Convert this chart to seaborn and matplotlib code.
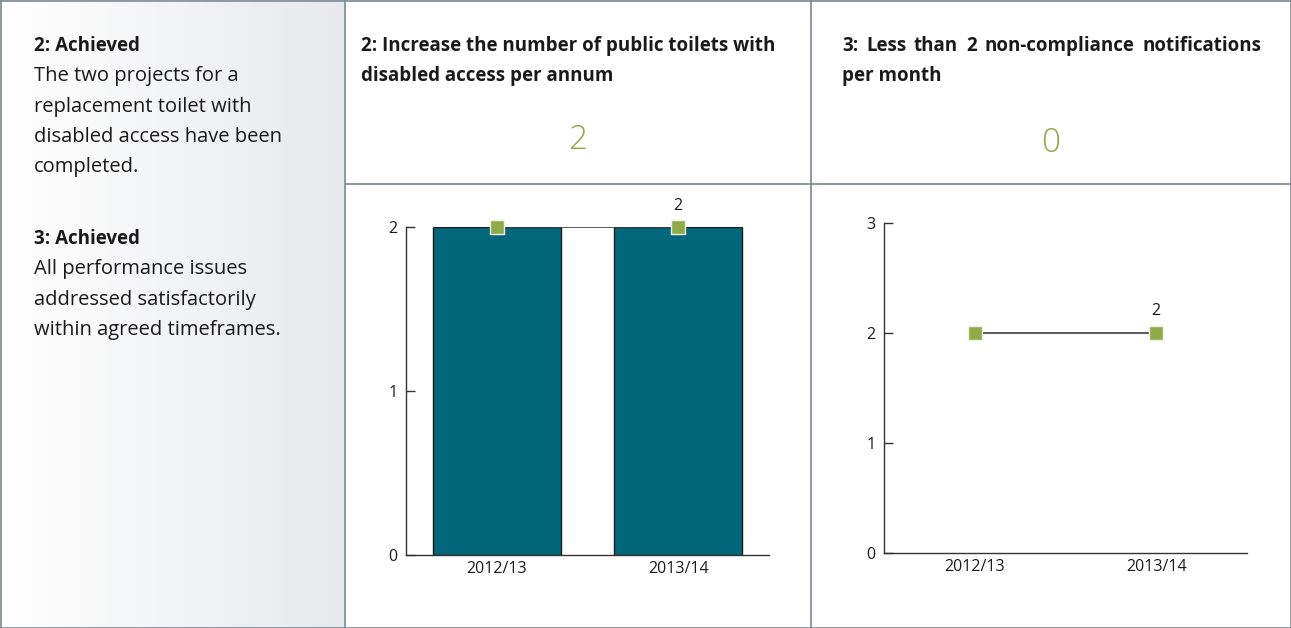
import numpy as np
import pandas as pd
import matplotlib
matplotlib.use("Agg")
import matplotlib.pyplot as plt
from matplotlib.lines import Line2D
from matplotlib.colors import LinearSegmentedColormap
import seaborn as sns

# ---- data ----
years = ["2012/13", "2013/14"]
toilets_actual = [2, 2]
toilets_target = [2, 2]
notif_target = [2, 2]
kpi2_value = "2"
kpi3_value = "0"
kpi2_title = ["2: Increase the number of public toilets with", "disabled access per annum"]
kpi3_title = ["3: Less than 2 non-compliance notifications", "per month"]
left_head_1 = "2: Achieved"
left_body_1 = ["The two projects for a", "replacement toilet with",
               "disabled access have been", "completed."]
left_head_2 = "3: Achieved"
left_body_2 = ["All performance issues", "addressed satisfactorily",
               "within agreed timeframes."]

W, H = 1291, 628
TEAL = "#02677a"
GREEN = "#8faa48"
BORDER = "#7d8794"
TXT = "#1a1a1a"
FONT = ["Open Sans", "DejaVu Sans"]

sns.set_theme(style="white")
plt.rcParams["font.family"] = FONT

fig = plt.figure(figsize=(W / 100, H / 100), dpi=100)
fig.patch.set_facecolor("white")


def fx(x):
    return x / W


def fy(y):
    return 1 - y / H


# left gradient panel
gax = fig.add_axes([0, 0, fx(345), 1], zorder=0)
cmap = LinearSegmentedColormap.from_list("g", ["#ffffff", "#e8e9ec"])
gax.imshow(np.linspace(0, 1, 256)[None, :], cmap=cmap, aspect="auto", extent=[0, 1, 0, 1])
gax.axis("off")


def hline(y, x0, x1):
    fig.add_artist(Line2D([fx(x0), fx(x1)], [fy(y), fy(y)], color=BORDER, lw=1.2,
                          transform=fig.transFigure, zorder=5))


def vline(x, y0, y1):
    fig.add_artist(Line2D([fx(x), fx(x)], [fy(y0), fy(y1)], color=BORDER, lw=1.2,
                          transform=fig.transFigure, zorder=5))


hline(0.5, 0, W)
hline(H - 0.5, 0, W)
vline(0.5, 0, H)
vline(W - 0.5, 0, H)
vline(345, 0, H)
vline(811, 0, H)
hline(184, 345, W)

# left text
LS = 30.3


def block(y0, head, body):
    fig.text(fx(34), fy(y0), head, fontsize=13.5, fontweight="bold", va="center", ha="left", color=TXT)
    for i, ln in enumerate(body):
        fig.text(fx(34), fy(y0 + LS * (i + 1)), ln, fontsize=14.5, va="center", ha="left", color=TXT)


block(46, left_head_1, left_body_1)
block(239, left_head_2, left_body_2)

# headers
for i, ln in enumerate(kpi2_title):
    fig.text(fx(361), fy(46 + 30 * i), ln, fontsize=13.5, fontweight="bold", va="center",
             ha="left", color=TXT)


def justified(x0, x1, y, text):
    words = text.split(" ")
    renderer = fig.canvas.get_renderer()
    arts = [fig.text(0, 0, w, fontsize=13.5, fontweight="bold", va="center", ha="left", color=TXT)
            for w in words]
    widths = [a.get_window_extent(renderer).width for a in arts]
    gap = ((x1 - x0) - sum(widths)) / max(len(words) - 1, 1)
    x = x0
    for a, wd in zip(arts, widths):
        a.set_position((fx(x), fy(y)))
        x += wd + gap


justified(842, 1261, 46, kpi3_title[0])
fig.text(fx(842), fy(76), kpi3_title[1], fontsize=13.5, fontweight="bold", va="center",
         ha="left", color=TXT)

fig.text(fx(578), fy(140), kpi2_value, fontsize=24, color=GREEN, va="center", ha="center",
         fontweight="light")
fig.text(fx(1051), fy(143), kpi3_value, fontsize=24, color=GREEN, va="center", ha="center",
         fontweight="light")


def style_axes(ax, ymax):
    ax.set_xlim(-0.5, 1.5)
    ax.set_ylim(0, ymax)
    ax.set_yticks(range(0, ymax + 1))
    ax.set_xticks([0, 1])
    ax.set_xticklabels(years)
    ax.set_xticks([-0.5, 0.5, 1.5], minor=True)
    ax.tick_params(axis="x", which="major", length=0, labelsize=11.5, pad=4, colors=TXT)
    ax.tick_params(axis="x", which="minor", direction="in", length=6.5, width=1, color="#333333")
    ax.tick_params(axis="y", direction="in", length=6.5, width=1, labelsize=11.5, color="#333333",
                   labelcolor=TXT, pad=6, left=True)
    for s in ["top", "right"]:
        ax.spines[s].set_visible(False)
    for s in ["left", "bottom"]:
        ax.spines[s].set_color("#333333")
        ax.spines[s].set_linewidth(1)
    ax.set_xlabel("")
    ax.set_ylabel("")
    ax.patch.set_alpha(0)


# chart 1: bars with target markers
ax1 = fig.add_axes([fx(406), fy(555), fx(769 - 406), (555 - 227) / H], zorder=2)
df1 = pd.DataFrame({"year": years, "actual": toilets_actual, "target": toilets_target})
sns.barplot(data=df1, x="year", y="actual", color=TEAL, width=0.705, edgecolor=TXT,
            linewidth=1, saturation=1, ax=ax1, zorder=2)
sns.lineplot(data=df1, x="year", y="target", color="#404040", lw=1.2, ax=ax1, zorder=3)
sns.scatterplot(data=df1, x="year", y="target", marker="s", s=115, color=GREEN,
                edgecolor="#eef3e2", linewidth=1, ax=ax1, zorder=4, clip_on=False)
ax1.annotate(str(toilets_target[-1]), xy=(len(years) - 1, toilets_target[-1]), xytext=(0, 15),
             textcoords="offset points", ha="center", va="center", fontsize=11.5, color=TXT)
style_axes(ax1, 2)

# chart 2: target line
ax2 = fig.add_axes([fx(884), fy(553), fx(1247 - 884), (553 - 223) / H], zorder=2)
df2 = pd.DataFrame({"year": years, "target": notif_target})
sns.lineplot(data=df2, x="year", y="target", color="#404040", lw=1.2, ax=ax2, zorder=3)
sns.scatterplot(data=df2, x="year", y="target", marker="s", s=115, color=GREEN,
                edgecolor="#eef3e2", linewidth=1, ax=ax2, zorder=4, clip_on=False)
ax2.annotate(str(notif_target[-1]), xy=(len(years) - 1, notif_target[-1]), xytext=(0, 16),
             textcoords="offset points", ha="center", va="center", fontsize=11.5, color=TXT)
style_axes(ax2, 3)

fig.savefig("out.png", dpi=100, facecolor="white")
